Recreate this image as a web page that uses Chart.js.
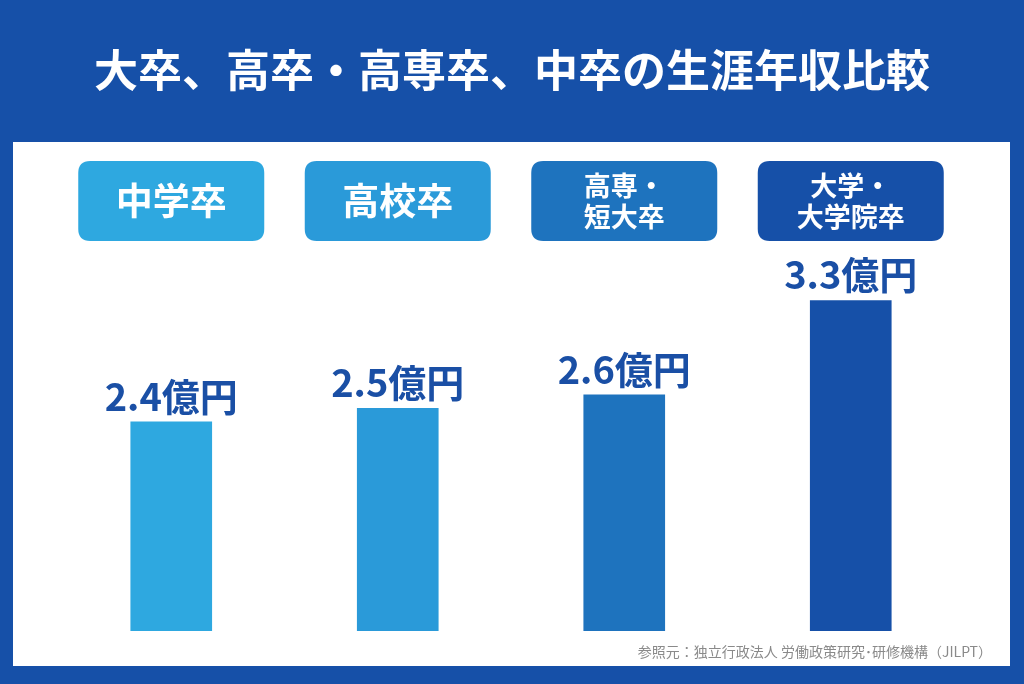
<!DOCTYPE html>
<html lang="ja">
<head>
<meta charset="utf-8">
<title>大卒、高卒・高専卒、中卒の生涯年収比較</title>
<script src="https://cdn.jsdelivr.net/npm/chart.js@4"></script>
<style>
    html, body { margin: 0; padding: 0; background: #1650a8; }
    #grafico { display: block; }
</style>
</head>
<body>
<canvas id="grafico" width="1024" height="684"></canvas>
<script>
// dados do gráfico
var titulo = '大卒、高卒・高専卒、中卒の生涯年収比較';
var categorias = [['中学卒'], ['高校卒'], ['高専・', '短大卒'], ['大学・', '大学院卒']];
var valores = [2.4, 2.5, 2.6, 3.3];
var unidade = '億円';
var cores = ['#2ea8e0', '#2a9ad9', '#1e73be', '#1650a8'];
var fonte = '参照元：独立行政法人 労働政策研究･研修機構（JILPT）';

var familia = '"Noto Sans CJK JP", "Noto Sans", sans-serif';

function caixaArredondada(ctx, x, y, w, h, r) {
    ctx.beginPath();
    ctx.moveTo(x + r, y);
    ctx.lineTo(x + w - r, y);
    ctx.quadraticCurveTo(x + w, y, x + w, y + r);
    ctx.lineTo(x + w, y + h - r);
    ctx.quadraticCurveTo(x + w, y + h, x + w - r, y + h);
    ctx.lineTo(x + r, y + h);
    ctx.quadraticCurveTo(x, y + h, x, y + h - r);
    ctx.lineTo(x, y + r);
    ctx.quadraticCurveTo(x, y, x + r, y);
    ctx.closePath();
}

// fundo, painel branco, título e caixas das categorias
const fundoPlugin = {
    id: 'fundoPlugin',
    beforeDraw(chart) {
        const { ctx, scales: { x } } = chart;
        ctx.save();
        ctx.fillStyle = '#1650a8';
        ctx.fillRect(0, 0, chart.width, chart.height);
        ctx.fillStyle = '#ffffff';
        ctx.fillRect(13, 142, 997, 524);

        ctx.fillStyle = '#ffffff';
        ctx.font = 'bold 44px ' + familia;
        ctx.textAlign = 'center';
        ctx.textBaseline = 'middle';
        ctx.fillText(titulo, 512, 70);

        for (var i = 0; i < categorias.length; i++) {
            var cx = x.getPixelForValue(i);
            ctx.fillStyle = cores[i];
            caixaArredondada(ctx, cx - 93, 161, 186, 80, 12);
            ctx.fill();

            ctx.fillStyle = '#ffffff';
            var linhas = categorias[i];
            if (linhas.length == 1) {
                ctx.font = 'bold 37px ' + familia;
                ctx.fillText(linhas[0], cx, 201);
            } else {
                ctx.font = 'bold 27px ' + familia;
                ctx.fillText(linhas[0], cx, 186);
                ctx.fillText(linhas[1], cx, 217);
            }
        }
        ctx.restore();
    },
    afterDatasetsDraw(chart) {
        const { ctx } = chart;
        var meta = chart.getDatasetMeta(0);
        ctx.save();
        ctx.fillStyle = '#1a4fa5';
        ctx.font = 'bold 38px ' + familia;
        ctx.textAlign = 'center';
        ctx.textBaseline = 'alphabetic';
        meta.data.forEach(function (barra, i) {
            ctx.fillText(valores[i].toFixed(1) + unidade, barra.x, barra.y - 11);
        });

        // fonte dos dados
        ctx.fillStyle = '#8a8a8a';
        ctx.font = '14px ' + familia;
        ctx.textAlign = 'right';
        ctx.textBaseline = 'middle';
        ctx.fillText(fonte, 992, 652);
        ctx.restore();
    }
};

new Chart(document.getElementById('grafico'), {
    type: 'bar',
    data: {
        labels: categorias.map(function (c) { return c.join(''); }),
        datasets: [{
            data: valores,
            backgroundColor: cores,
            borderWidth: 0,
            barThickness: 81
        }]
    },
    options: {
        responsive: false,
        animation: false,
        layout: {
            padding: { left: 58, right: 60, top: 260, bottom: 53 }
        },
        scales: {
            x: { display: false },
            y: { display: false, min: 0.85, max: 3.6 }
        },
        plugins: {
            legend: { display: false },
            tooltip: { enabled: false }
        }
    },
    plugins: [fundoPlugin]
});
</script>
</body>
</html>
